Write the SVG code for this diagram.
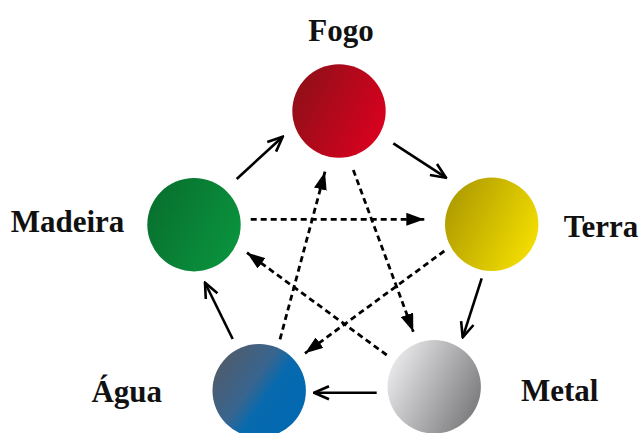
<svg xmlns="http://www.w3.org/2000/svg" width="641" height="433" viewBox="0 0 641 433">
  <style>
    .label { font-family: "Liberation Serif", "Times New Roman", serif; font-weight: bold; font-size: 31px; fill: #111; text-anchor: middle; }
    .gen { fill: none; stroke: #000; stroke-width: 2.6; marker-end: url(#open); }
    .ctl { fill: none; stroke: #000; stroke-width: 2.8; stroke-dasharray: 6 4; marker-end: url(#solid); }
  </style>
  <defs>
    <marker id="open" viewBox="0 0 18 16" refX="16.5" refY="8" markerWidth="18" markerHeight="16" markerUnits="userSpaceOnUse" orient="auto">
      <path d="M1.5,1.5 L16.5,8 L1.5,14.5" fill="none" stroke="#000" stroke-width="2.6" stroke-linejoin="miter"/>
    </marker>
    <marker id="solid" viewBox="0 0 18 13" refX="18" refY="6.5" markerWidth="18" markerHeight="13" markerUnits="userSpaceOnUse" orient="auto">
      <path d="M0,0 L18,6.5 L0,13 z" fill="#000"/>
    </marker>
    <linearGradient id="gFogo" x1="0" y1="0.25" x2="1" y2="0.75">
      <stop offset="0" stop-color="#8e1018"/>
      <stop offset="1" stop-color="#dc001f"/>
    </linearGradient>
    <linearGradient id="gTerra" x1="0" y1="0.25" x2="1" y2="0.75">
      <stop offset="0" stop-color="#ad9a00"/>
      <stop offset="1" stop-color="#f6e000"/>
    </linearGradient>
    <linearGradient id="gMadeira" x1="0" y1="0.25" x2="1" y2="0.75">
      <stop offset="0" stop-color="#08702e"/>
      <stop offset="1" stop-color="#0a943e"/>
    </linearGradient>
    <linearGradient id="gAgua" x1="0" y1="0.15" x2="1" y2="0.85">
      <stop offset="0" stop-color="#545a66"/>
      <stop offset="0.42" stop-color="#38658f"/>
      <stop offset="0.58" stop-color="#086aae"/>
      <stop offset="1" stop-color="#0068b2"/>
    </linearGradient>
    <linearGradient id="gMetal" x1="0" y1="0.25" x2="1" y2="0.75">
      <stop offset="0" stop-color="#ececee"/>
      <stop offset="1" stop-color="#78787a"/>
    </linearGradient>
  </defs>

  <!-- generating cycle (solid) and controlling cycle (dashed) -->
  <g id="connectors">
    <line class="gen" x1="236.7" y1="179" x2="282.7" y2="136.7"/>
    <line class="gen" x1="393.3" y1="143.3" x2="446" y2="177.7"/>
    <line class="gen" x1="481.7" y1="278.3" x2="462.7" y2="337.3"/>
    <line class="gen" x1="376.7" y1="392.7" x2="314" y2="392.7"/>
    <line class="gen" x1="232.7" y1="339" x2="205" y2="282.7"/>

    <line class="ctl" x1="250.7" y1="219.3" x2="424.3" y2="219.3"/>
    <line class="ctl" x1="353.3" y1="170" x2="413.3" y2="331.7"/>
    <line class="ctl" x1="444.3" y1="251" x2="305" y2="353.3"/>
    <line class="ctl" x1="386.7" y1="355" x2="247" y2="252.7"/>
    <line class="ctl" x1="280" y1="339.3" x2="325" y2="171.7"/>
  </g>

  <g id="fogo">
    <circle cx="339" cy="111" r="46.7" fill="url(#gFogo)"/>
    <text class="label" x="341" y="41">Fogo</text>
  </g>
  <g id="terra">
    <circle cx="491.7" cy="224.3" r="46.7" fill="url(#gTerra)"/>
    <text class="label" x="601" y="237">Terra</text>
  </g>
  <g id="metal">
    <circle cx="434.2" cy="386.8" r="46.7" fill="url(#gMetal)"/>
    <text class="label" x="559.7" y="400.7">Metal</text>
  </g>
  <g id="agua">
    <circle cx="259.2" cy="390.7" r="46.7" fill="url(#gAgua)"/>
    <text class="label" x="126.7" y="401.7">Água</text>
  </g>
  <g id="madeira">
    <circle cx="194" cy="224.7" r="46.7" fill="url(#gMadeira)"/>
    <text class="label" x="67.5" y="232.3">Madeira</text>
  </g>
</svg>
